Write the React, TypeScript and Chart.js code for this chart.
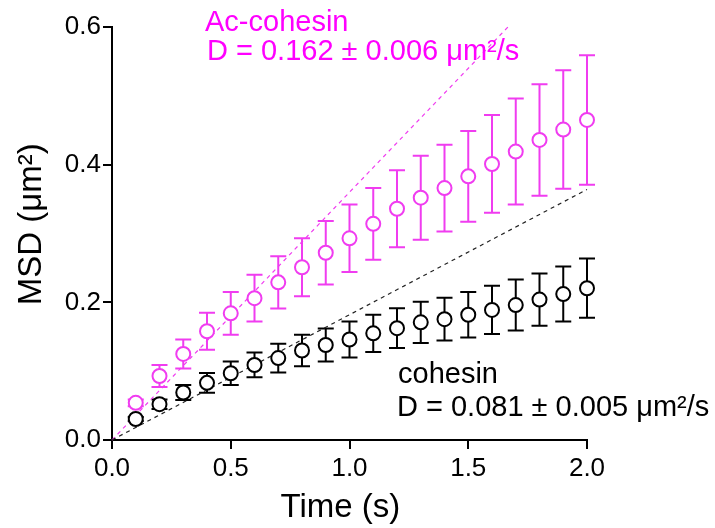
import React, { useEffect, useRef } from 'react';
import { Chart, registerables } from 'chart.js';

Chart.register(...registerables);

// ---- data ----
const times = [0.1, 0.2, 0.3, 0.4, 0.5, 0.6, 0.7, 0.8, 0.9, 1.0, 1.1, 1.2, 1.3, 1.4, 1.5, 1.6, 1.7, 1.8, 1.9, 2.0];
const acMean = [0.054, 0.093, 0.125, 0.158, 0.184, 0.206, 0.229, 0.251, 0.272, 0.293, 0.314, 0.336, 0.352, 0.366, 0.383, 0.401, 0.419, 0.436, 0.451, 0.465];
const acErr = [0.005, 0.016, 0.021, 0.027, 0.031, 0.034, 0.038, 0.042, 0.046, 0.049, 0.052, 0.056, 0.061, 0.063, 0.066, 0.071, 0.077, 0.081, 0.086, 0.094];
const coMean = [0.0305, 0.052, 0.069, 0.083, 0.097, 0.109, 0.119, 0.130, 0.138, 0.146, 0.155, 0.1625, 0.171, 0.1755, 0.182, 0.189, 0.196, 0.204, 0.212, 0.2205];
const coErr = [0.003, 0.007, 0.011, 0.0145, 0.017, 0.018, 0.021, 0.023, 0.024, 0.026, 0.027, 0.029, 0.030, 0.031, 0.033, 0.035, 0.037, 0.038, 0.040, 0.043];
const acFitX = [0, 1.667];
const acFitY = [0, 0.6];
const coFitX = [0, 2.0];
const coFitY = [0, 0.364];
const xTicks = [0, 0.5, 1.0, 1.5, 2.0];
const yTicks = [0, 0.2, 0.4, 0.6];

const MAGENTA = '#f03cf0';
const TEXT_MAGENTA = '#ff00ff';
const FONT = "'Liberation Sans', Arial, Helvetica, sans-serif";

const errorBarPlugin = {
  id: 'errorBars',
  beforeDatasetsDraw(chart: any) {
    const ctx = chart.ctx;
    const ys = chart.scales.y;
    chart.data.datasets.forEach((ds: any, i: number) => {
      const errs = ds.errors;
      if (!errs) return;
      const meta = chart.getDatasetMeta(i);
      ctx.save();
      ctx.strokeStyle = ds.borderColor;
      ctx.lineWidth = 2;
      meta.data.forEach((pt: any, j: number) => {
        const v = ds.data[j].y;
        const e = errs[j];
        const x = pt.x;
        const yTop = ys.getPixelForValue(v + e);
        const yBot = ys.getPixelForValue(v - e);
        ctx.beginPath();
        ctx.moveTo(x, yTop);
        ctx.lineTo(x, yBot);
        ctx.moveTo(x - 8, yTop);
        ctx.lineTo(x + 8, yTop);
        ctx.moveTo(x - 8, yBot);
        ctx.lineTo(x + 8, yBot);
        ctx.stroke();
      });
      ctx.restore();
    });
  },
};

const labelPlugin = {
  id: 'labels',
  afterDraw(chart: any) {
    const ctx = chart.ctx;
    ctx.save();
    ctx.font = `29px ${FONT}`;
    ctx.textAlign = 'left';
    ctx.textBaseline = 'alphabetic';
    ctx.fillStyle = TEXT_MAGENTA;
    ctx.fillText('Ac-cohesin', 205, 31);
    ctx.fillText('D = 0.162 ± 0.006 μm²/s', 207, 60);
    ctx.fillStyle = '#000000';
    ctx.fillText('cohesin', 398, 383);
    ctx.fillText('D = 0.081 ± 0.005 μm²/s', 397, 416);
    ctx.restore();
  },
};

export default function App() {
  const ref = useRef<HTMLCanvasElement | null>(null);

  useEffect(() => {
    if (!ref.current) return;
    const toPts = (xs: number[], ys: number[]) => xs.map((x, i) => ({ x, y: ys[i] }));
    const chart = new Chart(ref.current, {
      type: 'scatter',
      data: {
        datasets: [
          {
            label: 'Ac-cohesin fit',
            type: 'line',
            data: toPts(acFitX, acFitY),
            borderColor: MAGENTA,
            borderWidth: 1.2,
            borderDash: [4, 4],
            pointRadius: 0,
            fill: false,
            clip: false,
            order: 3,
          } as any,
          {
            label: 'cohesin fit',
            type: 'line',
            data: toPts(coFitX, coFitY),
            borderColor: '#222222',
            borderWidth: 1.2,
            borderDash: [4, 4],
            pointRadius: 0,
            fill: false,
            clip: false,
            order: 2,
          } as any,
          {
            label: 'Ac-cohesin',
            data: toPts(times, acMean),
            errors: acErr,
            borderColor: MAGENTA,
            backgroundColor: '#ffffff',
            pointRadius: 7,
            pointBorderWidth: 2,
            clip: false,
            order: 1,
          } as any,
          {
            label: 'cohesin',
            data: toPts(times, coMean),
            errors: coErr,
            borderColor: '#000000',
            backgroundColor: '#ffffff',
            pointRadius: 7,
            pointBorderWidth: 2,
            clip: false,
            order: 0,
          } as any,
        ],
      },
      options: {
        animation: false,
        responsive: false,
        devicePixelRatio: 1,
        layout: { padding: { left: 0, right: 128, top: 27, bottom: 0 } },
        plugins: {
          legend: { display: false },
          tooltip: { enabled: false },
        },
        scales: {
          x: {
            type: 'linear',
            min: 0,
            max: 2,
            afterFit: (s: any) => { s.height = 88; },
            afterBuildTicks: (s: any) => { s.ticks = xTicks.map((v) => ({ value: v })); },
            ticks: {
              color: '#000',
              font: { family: FONT, size: 26 },
              padding: 4,
              maxRotation: 0,
              callback: (v: any) => Number(v).toFixed(1),
            },
            grid: { display: true, drawOnChartArea: false, drawTicks: true, tickLength: 9, color: '#000', lineWidth: 2 },
            border: { display: true, color: '#000', width: 2 },
            title: {
              display: true,
              text: 'Time (s)  ',
              color: '#000',
              font: { family: FONT, size: 33 },
              padding: { top: 0, bottom: 0 },
            },
          },
          y: {
            type: 'linear',
            min: 0,
            max: 0.6,
            afterFit: (s: any) => { s.width = 112; },
            afterBuildTicks: (s: any) => { s.ticks = yTicks.map((v) => ({ value: v })); },
            ticks: {
              color: '#000',
              font: { family: FONT, size: 26 },
              padding: 2,
              callback: (v: any) => Number(v).toFixed(1),
            },
            grid: { display: true, drawOnChartArea: false, drawTicks: true, tickLength: 9, color: '#000', lineWidth: 2 },
            border: { display: true, color: '#000', width: 2 },
            title: {
              display: true,
              text: '  MSD (μm²)',
              color: '#000',
              font: { family: FONT, size: 33 },
              padding: { top: 12, bottom: 0 },
            },
          },
        },
      },
      plugins: [errorBarPlugin, labelPlugin],
    });
    return () => chart.destroy();
  }, []);

  return (
    <div style={{ position: 'absolute', left: 0, top: 0, width: 715, height: 528, background: '#fff' }}>
      <canvas ref={ref} width={715} height={528} style={{ display: 'block', width: 715, height: 528 }} />
    </div>
  );
}
